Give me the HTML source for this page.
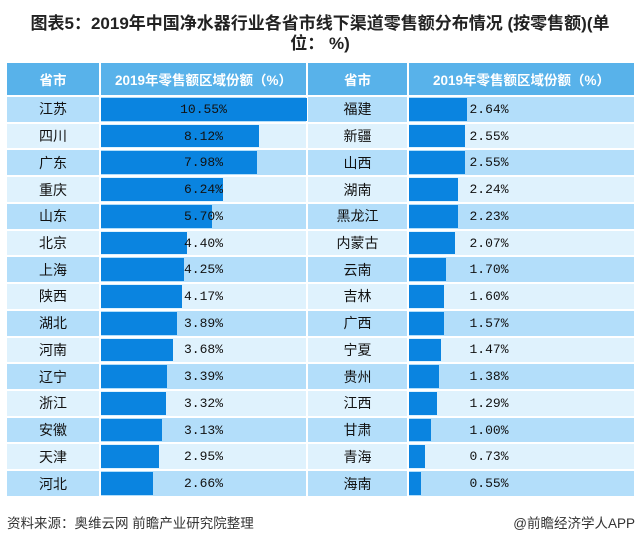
<!DOCTYPE html>
<html><head><meta charset="utf-8"><style>
body{margin:0;width:640px;height:543px;background:#fff;font-family:"Liberation Sans","Noto Sans CJK SC",sans-serif;position:relative;overflow:hidden}
.t{position:absolute;left:0;width:640px;text-align:center;font-weight:bold;font-size:17px;color:#222;line-height:20px;top:14px}
.c{position:absolute;display:flex;align-items:center;justify-content:center;font-size:14px;color:#111;box-sizing:border-box}
.h{color:#fff;font-weight:bold;background:#58b2ea;font-size:13.5px}
.b{position:absolute;background:#0a84e0}
.v{font-family:"Liberation Mono","Noto Sans CJK SC",monospace;font-size:13px}
.f{position:absolute;top:512px;font-size:13.5px;color:#333}
</style></head><body>
<div class="t">图表5：2019年中国净水器行业各省市线下渠道零售额分布情况 (按零售额)(单<br>位： %)</div>
<div id="g"></div>
<div class="f" style="left:7px">资料来源：奥维云网 前瞻产业研究院整理</div>
<div class="f" style="right:5px">@前瞻经济学人APP</div>
<script>
const L=[["江苏",10.55],["四川",8.12],["广东",7.98],["重庆",6.24],["山东",5.70],["北京",4.40],["上海",4.25],["陕西",4.17],["湖北",3.89],["河南",3.68],["辽宁",3.39],["浙江",3.32],["安徽",3.13],["天津",2.95],["河北",2.66]];
const R=[["福建",2.64],["新疆",2.55],["山西",2.55],["湖南",2.24],["黑龙江",2.23],["内蒙古",2.07],["云南",1.70],["吉林",1.60],["广西",1.57],["宁夏",1.47],["贵州",1.38],["江西",1.29],["甘肃",1.00],["青海",0.73],["海南",0.55]];
let h="";
const cols=[[7,99],[101,306],[308,407],[409,634]];
function cell(x0,x1,y,hh,cls,bg,txt){h+=`<div class="c ${cls}" style="left:${x0}px;width:${x1-x0}px;top:${y}px;height:${hh}px;background:${bg}">${txt}</div>`;}
const hdr=["省市","2019年零售额区域份额（%）","省市","2019年零售额区域份额（%）"];
cols.forEach((c,i)=>cell(c[0],c[1],63,32,"h","#58b2ea",hdr[i]));
const rh=26.73;
for(let i=0;i<15;i++){
 const y=97+i*rh, bg=i%2==0?"#b3defa":"#dff2fd", hh=rh-2;
 cell(cols[0][0],cols[0][1],y,hh,"",bg,L[i][0]);
 cell(cols[1][0],cols[1][1],y,hh,"",bg,"");
 h+=`<div class="b" style="left:101px;top:${y+1}px;height:${hh-2}px;width:${L[i][1]*19.5}px"></div>`;
 h+=`<div class="c v" style="left:101px;width:205px;top:${y}px;height:${hh}px">${L[i][1].toFixed(2)}%</div>`;
 cell(cols[2][0],cols[2][1],y,hh,"",bg,R[i][0]);
 cell(cols[3][0],cols[3][1],y,hh,"",bg,"");
 h+=`<div class="b" style="left:409px;top:${y+1}px;height:${hh-2}px;width:${R[i][1]*22}px"></div>`;
 h+=`<div class="c v" style="left:409px;width:160px;top:${y}px;height:${hh}px">${R[i][1].toFixed(2)}%</div>`;
}
document.getElementById("g").innerHTML=h;
</script>
</body></html>
